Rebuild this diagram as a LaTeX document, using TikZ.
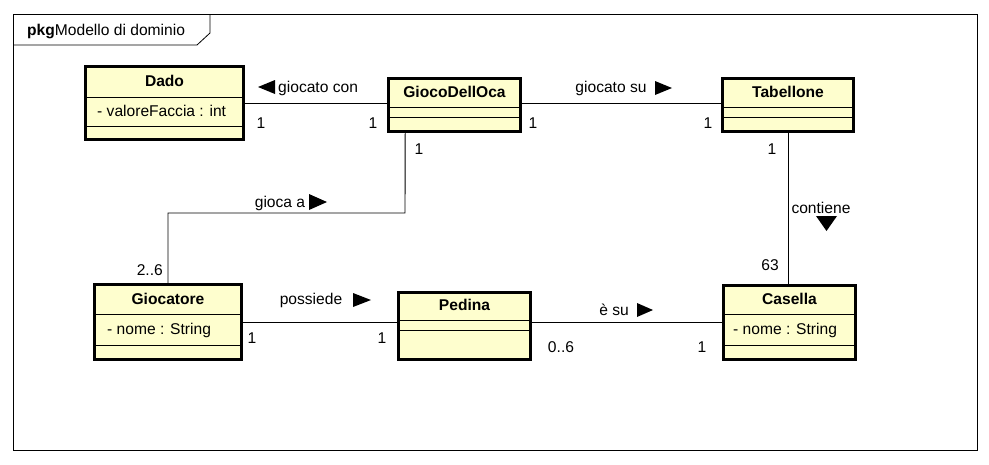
\documentclass[tikz,border=0pt]{standalone}
\usepackage{fontspec}
\setmainfont{Liberation Sans}
\usepackage{xcolor}
\definecolor{giallino}{HTML}{FEFECE}

\tikzset{
  classe/.style={draw, line width=2.6pt, fill=giallino, inner sep=0pt},
  nomeclasse/.style={font=\fontsize{15.6}{18}\selectfont\bfseries, inner sep=0pt},
  attributo/.style={font=\fontsize{15.6}{18}\selectfont, inner sep=0pt, anchor=west},
  testo/.style={font=\fontsize{15.6}{18}\selectfont, inner sep=0pt},
  divisore/.style={line width=0.9pt},
  assoc/.style={line width=0.9pt},
}

\begin{document}
\begin{tikzpicture}[x=1pt, y=-1pt]
		\useasboundingbox (0,0) rectangle (989,464);
		
		% Cornice del package
		\draw[line width=0.8pt] (13,14) rectangle (977,450); % Bordo esterno
		\draw[line width=0.8pt] (13,45) -- (197,45) -- (210,33) -- (210,14); % Linguetta
		\node[testo, anchor=west] (pkg) at (27,31) {{\bfseries pkg}Modello di dominio}; % Titolo
		
		% Classe Dado
		\node[classe, minimum width=158, minimum height=73] (dado) at (164.5,103) {};
		\node[nomeclasse] (dadonome) at (164.5,81) {Dado};
		\draw[divisore] (dado.west |- 0,97) -- (dado.east |- 0,97);
		\node[attributo] (dadoattr) at (97,111) {- valoreFaccia : int};
		\draw[divisore] (dado.west |- 0,126) -- (dado.east |- 0,126);
		
		% Classe GiocoDellOca
		\node[classe, minimum width=132, minimum height=53] (gioco) at (454.5,105) {};
		\node[nomeclasse] (giocononome) at (454.5,92) {GiocoDellOca};
		\draw[divisore] (gioco.west |- 0,107) -- (gioco.east |- 0,107);
		\draw[divisore] (gioco.west |- 0,117) -- (gioco.east |- 0,117);
		
		% Classe Tabellone
		\node[classe, minimum width=131, minimum height=53] (tabellone) at (788,105) {};
		\node[nomeclasse] (tabellonenome) at (788,92) {Tabellone};
		\draw[divisore] (tabellone.west |- 0,107) -- (tabellone.east |- 0,107);
		\draw[divisore] (tabellone.west |- 0,117) -- (tabellone.east |- 0,117);
		
		% Classe Giocatore
		\node[classe, minimum width=147, minimum height=75] (giocatore) at (168,322) {};
		\node[nomeclasse] (giocatorenome) at (168,299) {Giocatore};
		\draw[divisore] (giocatore.west |- 0,314) -- (giocatore.east |- 0,314);
		\node[attributo] (giocatoreattr) at (107,330) {- nome : String};
		\draw[divisore] (giocatore.west |- 0,345) -- (giocatore.east |- 0,345);
		
		% Classe Pedina
		\node[classe, minimum width=132, minimum height=67] (pedina) at (464.5,326) {};
		\node[nomeclasse] (pedinanome) at (464.5,305) {Pedina};
		\draw[divisore] (pedina.west |- 0,320) -- (pedina.east |- 0,320);
		\draw[divisore] (pedina.west |- 0,330) -- (pedina.east |- 0,330);
		
		% Classe Casella
		\node[classe, minimum width=132, minimum height=74] (casella) at (789.5,322.5) {};
		\node[nomeclasse] (casellanome) at (789.5,299) {Casella};
		\draw[divisore] (casella.west |- 0,314) -- (casella.east |- 0,314);
		\node[attributo] (casellaattr) at (733,330) {- nome : String};
		\draw[divisore] (casella.west |- 0,345) -- (casella.east |- 0,345);
		
		% Associazione Dado - GiocoDellOca
		\draw[assoc] (dado.east) -- (dado.east -| gioco.west);
		\fill (258,87) -- (275,80) -- (275,94) -- cycle; % Verso a sinistra
		\node[testo, anchor=west] (giocatocon) at (278,88) {giocato con};
		\node[testo] (mdado) at (261,123) {1};
		\node[testo] (mgioco1) at (373,123) {1};
		
		% Associazione GiocoDellOca - Tabellone
		\draw[assoc] ([yshift=2pt]gioco.east) -- ([yshift=2pt]tabellone.west);
		\node[testo] (giocatosu) at (611,88) {giocato su};
		\fill (655,81) -- (672,88) -- (655,95) -- cycle; % Verso a destra
		\node[testo] (mgioco2) at (533,123) {1};
		\node[testo] (mtab1) at (708,123) {1};
		
		% Associazione GiocoDellOca - Giocatore
		\coordinate (piega) at (405,213);
		\draw[assoc] ([xshift=18pt]gioco.south west) -- (piega) -| (giocatore.north);
		\node[testo] (giocaa) at (280,203) {gioca a};
		\fill (309,194) -- (327,202) -- (309,210) -- cycle; % Verso a destra
		\node[testo] (mgioco3) at (419,149) {1};
		\node[testo, anchor=east] (mgiocatore1) at (163,270) {2..6};
		
		% Associazione Tabellone - Casella
		\draw[assoc] (tabellone.south) -- (tabellone.south |- casella.north);
		\node[testo] (contiene) at (821,208) {contiene};
		\fill (816,216) -- (837,216) -- (826.5,231) -- cycle; % Verso in basso
		\node[testo] (mtab2) at (772,149) {1};
		\node[testo] (mcasella1) at (770,265) {63};
		
		% Associazione Giocatore - Pedina
		\draw[assoc] (giocatore.east) -- (giocatore.east -| pedina.west);
		\node[testo] (possiede) at (311,300) {possiede};
		\fill (353,293) -- (371,300) -- (353,307) -- cycle; % Verso a destra
		\node[testo] (mgiocatore2) at (252,338) {1};
		\node[testo] (mpedina1) at (382,338) {1};
		
		% Associazione Pedina - Casella
		\draw[assoc] (pedina.east |- casella.west) -- (casella.west);
		\node[testo] (esu) at (614,310) {è su};
		\fill (637,303) -- (653,310) -- (637,317) -- cycle; % Verso a destra
		\node[testo] (mpedina2) at (561,347) {0..6};
		\node[testo] (mcasella2) at (702,347) {1};
	\end{tikzpicture}
\end{document}
